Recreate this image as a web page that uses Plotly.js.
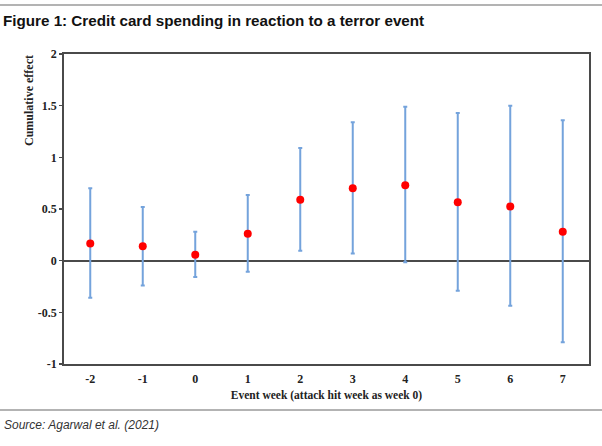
<!DOCTYPE html>
<html>
<head>
<meta charset="utf-8">
<script src="https://cdn.plot.ly/plotly-3.0.1.min.js"></script>
<style>html,body{margin:0;padding:0;background:#fff;}#chart{width:602px;height:446px;}</style>
</head>
<body>
<div id="chart"></div>
<script>
// Data
const weeks = [-2, -1, 0, 1, 2, 3, 4, 5, 6, 7];
const weekLabels = ['-2', '-1', '0', '1', '2', '3', '4', '5', '6', '7'];
const estimate = [0.165, 0.14, 0.058, 0.26, 0.59, 0.70, 0.73, 0.566, 0.524, 0.28];
const upper = [0.70, 0.52, 0.28, 0.635, 1.09, 1.34, 1.49, 1.43, 1.50, 1.36];
const lower = [-0.36, -0.24, -0.158, -0.107, 0.097, 0.07, -0.016, -0.29, -0.437, -0.79];
const yTicks = [-1, -0.5, 0, 0.5, 1, 1.5, 2];
const yTickLabels = ['-1', '-0.5', '0', '0.5', '1', '1.5', '2'];

const titleText = 'Figure 1: Credit card spending in reaction to a terror event';
const xTitle = 'Event week (attack hit week as week 0)';
const yTitle = 'Cumulative effect';
const sourceText = 'Source: Agarwal et al. (2021)';

const W = 602, H = 446;
const M = {l: 64, r: 13, t: 54, b: 82};
const pw = W - M.l - M.r, ph = H - M.t - M.b;
const px = x => (x - M.l) / pw;          // pixel -> paper x
const py = y => (H - M.b - y) / ph;      // pixel -> paper y

const serif = 'Liberation Serif, Times New Roman, serif';
const sans = 'Liberation Sans, Arial, sans-serif';

const trace = {
  type: 'scatter',
  mode: 'markers',
  x: weeks,
  y: estimate,
  marker: {color: '#FF0000', size: 8},
  error_y: {
    type: 'data',
    symmetric: false,
    array: upper.map((u, i) => u - estimate[i]),
    arrayminus: lower.map((l, i) => estimate[i] - l),
    color: '#74A3DC',
    thickness: 2,
    width: 2
  },
  hoverinfo: 'skip',
  showlegend: false
};

const layout = {
  width: W, height: H,
  margin: M,
  paper_bgcolor: '#fff',
  plot_bgcolor: '#fff',
  title: {
    text: '<b>' + titleText + '</b>',
    xref: 'container', yref: 'container',
    x: 3 / W, xanchor: 'left',
    y: 1 - 21 / H, yanchor: 'middle',
    font: {family: sans, size: 15.2, color: '#111'}
  },
  xaxis: {
    range: [-2.5, 7.5],
    tickmode: 'array', tickvals: weeks, ticktext: weekLabels,
    ticks: '', showgrid: false, zeroline: false,
    showline: true, mirror: true, linecolor: '#4a4a4a', linewidth: 1.8,
    ticklabelstandoff: 3,
    tickfont: {family: serif, size: 12, color: '#222', weight: 'bold'},
    title: {text: '<b>' + xTitle + '</b>', standoff: 6,
            font: {family: serif, size: 11.5, color: '#222'}}
  },
  yaxis: {
    range: [-1, 2],
    tickmode: 'array', tickvals: yTicks, ticktext: yTickLabels,
    ticks: 'outside', ticklen: 3, tickcolor: '#4a4a4a', tickwidth: 1.2,
    showgrid: false,
    zeroline: true, zerolinecolor: '#4a4a4a', zerolinewidth: 2,
    showline: true, mirror: true, linecolor: '#4a4a4a', linewidth: 1.8,
    tickfont: {family: serif, size: 12, color: '#222', weight: 'bold'}
  },
  annotations: [
    {
      text: '<b>' + yTitle + '</b>', textangle: -90,
      xref: 'paper', yref: 'paper', x: px(29), y: py(101),
      xanchor: 'center', yanchor: 'middle', showarrow: false,
      font: {family: serif, size: 12, color: '#222'}
    },
    {
      text: '<i>' + sourceText + '</i>',
      xref: 'paper', yref: 'paper', x: px(2), y: py(425),
      xanchor: 'left', yanchor: 'middle', showarrow: false,
      font: {family: sans, size: 12, color: '#333'}
    }
  ],
  shapes: [
    {type: 'line', xref: 'paper', yref: 'paper', x0: px(0), x1: px(W), y0: py(5), y1: py(5),
     line: {color: '#9a9a9a', width: 1.5}},
    {type: 'line', xref: 'paper', yref: 'paper', x0: px(0), x1: px(W), y0: py(410), y1: py(410),
     line: {color: '#9a9a9a', width: 1.5}}
  ]
};

Plotly.newPlot('chart', [trace], layout, {displayModeBar: false, staticPlot: true});
</script>
</body>
</html>
